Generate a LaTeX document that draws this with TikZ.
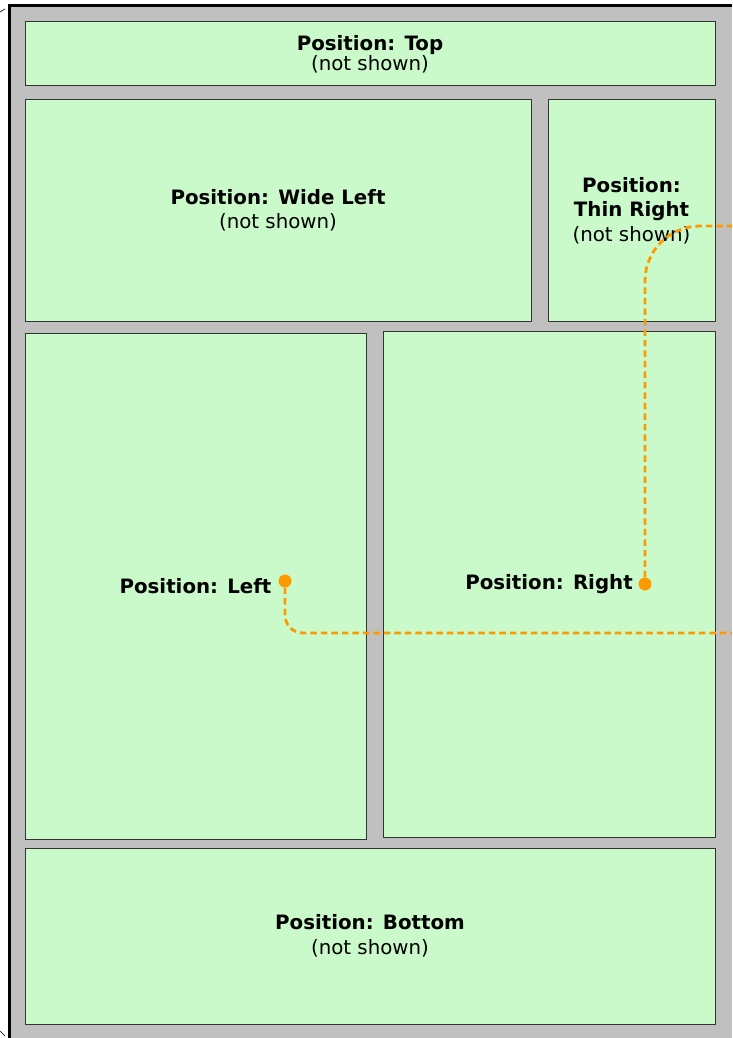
\documentclass[tikz,border=0pt]{standalone}
\usepackage{fontspec}
\setmainfont{DejaVu Sans}
\usetikzlibrary{positioning}
\definecolor{paneGreen}{RGB}{202,250,202}
\definecolor{frameGray}{RGB}{192,192,192}
\definecolor{wireOrange}{RGB}{255,153,0}
\begin{document}
\begin{tikzpicture}[
        x=1pt, y=-1pt,
        panel/.style={draw=black!80, line width=1pt, fill=paneGreen, inner sep=0pt,
                      align=center, font=\fontsize{19.8}{24.5}\selectfont},
        wire/.style={wireOrange, line width=2.8pt, dash pattern=on 6.5pt off 4pt},
        dot/.style={circle, fill=wireOrange, inner sep=0pt, minimum size=13pt}]

    \useasboundingbox (0,0) rectangle (732,1038);

    % --- Marco exterior (sigue fuera del recorte)
    \fill[frameGray] (9,6) rectangle (732,1038);
    \draw[line width=3pt] (9,1038) -- (9,6) -- (732,6);
    \draw[line width=0.6pt] (0,12) -- (5,9);
    \draw[line width=0.6pt] (0,1031) -- (5,1036);

    % --- Paneles
    \node[panel, minimum width=690pt, minimum height=64pt, font=\fontsize{19.8}{18.5}\selectfont]
        (top) at (370,54) {\textbf{Position: Top}\\(not shown)};
    \node[panel, minimum width=506pt, minimum height=221pt]
        (wideleft) at (278,210.5) {\textbf{Position: Wide Left}\\(not shown)};
    \node[panel, minimum width=167pt, minimum height=221pt]
        (thinright) at (631.5,210.5) {\textbf{Position:}\\\textbf{Thin Right}\\(not shown)};
    \node[panel, minimum width=341pt, minimum height=506pt]
        (left) at (195.5,586) {\textbf{Position: Left}};
    \node[panel, minimum width=332pt, minimum height=506pt]
        (right) at (549,584) {\textbf{Position: Right}};
    \node[panel, minimum width=690pt, minimum height=176pt]
        (bottom) at (370,936) {\textbf{Position: Bottom}\\(not shown)};

    % --- Puntos de anclaje y salidas
    \node[dot] (leftdot) at (285,581) {};
    \node[dot] (rightdot) at (645,584) {};
    \coordinate (leftexit) at (732,633);
    \coordinate (rightexit) at (732,226);

    % --- Conectores
    \draw[wire, rounded corners=18pt] (leftdot) |- (leftexit);
    \draw[wire, rounded corners=55pt] (rightdot) |- (rightexit);

\end{tikzpicture}
\end{document}
